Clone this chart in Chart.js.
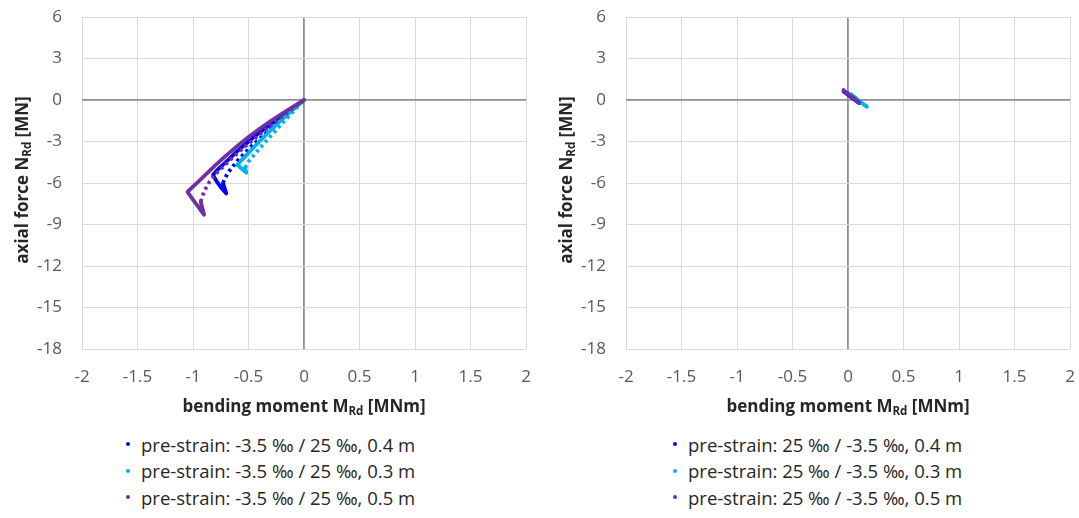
<!DOCTYPE html>
<html>
<head>
<meta charset="utf-8">
<script src="https://cdn.jsdelivr.net/npm/chart.js@4.4.1/dist/chart.umd.min.js"></script>
<style>
  body { margin: 0; background: #fff; }
  #wrap { position: relative; width: 1079px; height: 518px; overflow: hidden; font-family: "Open Sans", sans-serif; }
  #wrap canvas { position: absolute; top: 0; }
  .legend { position: absolute; top: 431px; }
  .item { height: 26.5px; display: flex; align-items: center; font-size: 18.5px; color: #262626; white-space: nowrap; }
  .dot { width: 4px; height: 4px; border-radius: 50%; margin-left: -2px; margin-right: 11px; }
</style>
</head>
<body>
<div id="wrap">
  <canvas id="chartLeft" width="540" height="420" style="left:0"></canvas>
  <canvas id="chartRight" width="540" height="420" style="left:544px"></canvas>
  <div class="legend" id="legendLeft" style="left:128px"></div>
  <div class="legend" id="legendRight" style="left:675px"></div>
</div>
<script>
// Axis ticks
const xTicks = [-2, -1.5, -1, -0.5, 0, 0.5, 1, 1.5, 2];
const yTicks = [6, 3, 0, -3, -6, -9, -12, -15, -18];

// Series names
const leftLabels = [
  'pre-strain: -3.5 ‰ / 25 ‰, 0.4 m',
  'pre-strain: -3.5 ‰ / 25 ‰, 0.3 m',
  'pre-strain: -3.5 ‰ / 25 ‰, 0.5 m'
];
const rightLabels = [
  'pre-strain: 25 ‰ / -3.5 ‰, 0.4 m',
  'pre-strain: 25 ‰ / -3.5 ‰, 0.3 m',
  'pre-strain: 25 ‰ / -3.5 ‰, 0.5 m'
];
const seriesColors = ['#0000ff', '#00b0f0', '#7030a0'];

// Interaction curves, [M (MNm), N (MN)] — outer branch and return branch
const leftOuter04 = [[0,0],[-0.1,-0.55],[-0.2,-1.12],[-0.3,-1.72],[-0.4,-2.35],[-0.5,-3.0],[-0.6,-3.7],[-0.7,-4.45],[-0.78,-5.05],[-0.82,-5.4],[-0.79,-5.85],[-0.75,-6.3],[-0.7,-6.75],[-0.73,-6.0]];
const leftReturn04 = [[-0.73,-6.0],[-0.69,-5.3],[-0.6,-4.4],[-0.5,-3.55],[-0.4,-2.8],[-0.3,-2.08],[-0.2,-1.38],[-0.1,-0.69],[0,0]];

const leftOuter03 = [[0,0],[-0.1,-0.7],[-0.2,-1.42],[-0.3,-2.18],[-0.4,-2.98],[-0.5,-3.82],[-0.57,-4.42],[-0.6,-4.68],[-0.56,-4.97],[-0.52,-5.25],[-0.53,-4.9]];
const leftReturn03 = [[-0.53,-4.9],[-0.5,-4.45],[-0.4,-3.5],[-0.3,-2.6],[-0.2,-1.72],[-0.1,-0.85],[0,0]];

const leftOuter05 = [[0,0],[-0.1,-0.5],[-0.2,-1.0],[-0.3,-1.52],[-0.4,-2.08],[-0.5,-2.68],[-0.6,-3.32],[-0.7,-4.0],[-0.8,-4.72],[-0.9,-5.5],[-1.0,-6.27],[-1.05,-6.65],[-1.0,-7.2],[-0.95,-7.75],[-0.9,-8.3],[-0.93,-7.35]];
const leftReturn05 = [[-0.93,-7.35],[-0.9,-6.6],[-0.85,-5.9],[-0.79,-5.3],[-0.7,-4.6],[-0.6,-3.85],[-0.5,-3.15],[-0.4,-2.5],[-0.3,-1.85],[-0.2,-1.22],[-0.1,-0.6],[0,0]];

const rightOuter04 = [[-0.04,0.62],[0.0,0.38],[0.05,0.08],[0.1,-0.22]];
const rightReturn04 = [[0.1,-0.22],[0.04,0.2],[-0.04,0.62]];
const rightOuter03 = [[0.03,0.41],[0.07,0.12],[0.12,-0.2],[0.17,-0.48]];
const rightReturn03 = [[0.17,-0.48],[0.1,-0.05],[0.03,0.41]];
const rightOuter05 = [[-0.04,0.72],[-0.01,0.5],[0.04,0.18],[0.1,-0.17]];
const rightReturn05 = [[0.1,-0.17],[0.03,0.3],[-0.04,0.72]];

const toPts = arr => arr.map(([x, y]) => ({ x, y }));

function curveDatasets(outer, ret, color, order) {
  return [
    { data: toPts(outer), borderColor: color, backgroundColor: color, showLine: true,
      pointRadius: 0, borderWidth: 3.8, borderJoinStyle: 'round', borderCapStyle: 'round', order },
    { data: toPts(ret), borderColor: color, backgroundColor: color, showLine: true,
      pointRadius: 0, borderWidth: 3.8, borderDash: [3, 3.5], order }
  ];
}

// Axis titles with subscripts
function drawRich(ctx, parts, cx, cy, rotate) {
  ctx.save();
  ctx.translate(cx, cy);
  if (rotate) ctx.rotate(-Math.PI / 2);
  const main = 'bold 17px "Open Sans", sans-serif';
  const sub = 'bold 11.5px "Open Sans", sans-serif';
  let w = 0;
  parts.forEach(p => { ctx.font = p.sub ? sub : main; w += ctx.measureText(p.t).width; });
  let x = -w / 2;
  ctx.fillStyle = '#262626';
  ctx.textBaseline = 'alphabetic';
  ctx.textAlign = 'left';
  parts.forEach(p => {
    ctx.font = p.sub ? sub : main;
    ctx.fillText(p.t, x, p.sub ? 9 : 6);
    x += ctx.measureText(p.t).width;
  });
  ctx.restore();
}

const axisTitles = {
  id: 'axisTitles',
  afterDraw(chart) {
    const ctx = chart.ctx;
    const a = chart.chartArea;
    drawRich(ctx, [{ t: 'bending moment M' }, { t: 'Rd', sub: true }, { t: ' [MNm]' }], (a.left + a.right) / 2, 406, false);
    drawRich(ctx, [{ t: 'axial force N' }, { t: 'Rd', sub: true }, { t: ' [MN]' }], 21.5, 180, true);
  }
};

function makeChart(id, datasets) {
  const gridColor = c => (c.tick && c.tick.value === 0) ? '#8f8f8f' : '#d9d9d9';
  const gridWidth = c => (c.tick && c.tick.value === 0) ? 1.8 : 1;
  const tickFont = { family: 'Open Sans', size: 17 };
  return new Chart(document.getElementById(id), {
    type: 'scatter',
    data: { datasets },
    options: {
      responsive: false,
      animation: false,
      layout: { padding: { top: 17, right: 14, bottom: 0, left: 0 } },
      plugins: { legend: { display: false }, tooltip: { enabled: false } },
      scales: {
        x: {
          type: 'linear', min: -2, max: 2,
          afterBuildTicks: s => { s.ticks = xTicks.map(v => ({ value: v })); },
          afterFit: s => { s.height = 71; s.paddingLeft = 0; s.paddingRight = 0; },
          ticks: { padding: 18, color: '#595959', font: tickFont, callback: v => String(v), maxRotation: 0 },
          grid: { color: gridColor, lineWidth: gridWidth, drawTicks: false },
          border: { display: false }
        },
        y: {
          type: 'linear', min: -18, max: 6,
          afterBuildTicks: s => { s.ticks = yTicks.map(v => ({ value: v })); },
          afterFit: s => { s.width = 82; s.paddingTop = 0; s.paddingBottom = 0; },
          ticks: { padding: 20, color: '#595959', font: tickFont, callback: v => String(v) },
          grid: { color: gridColor, lineWidth: gridWidth, drawTicks: false },
          border: { display: false }
        }
      }
    },
    plugins: [axisTitles]
  });
}

makeChart('chartLeft', [
  ...curveDatasets(leftOuter05, leftReturn05, seriesColors[2], 0),
  ...curveDatasets(leftOuter03, leftReturn03, seriesColors[1], 1),
  ...curveDatasets(leftOuter04, leftReturn04, seriesColors[0], 2)
]);

makeChart('chartRight', [
  ...curveDatasets(rightOuter05, rightReturn05, seriesColors[2], 0),
  ...curveDatasets(rightOuter03, rightReturn03, seriesColors[1], 1),
  ...curveDatasets(rightOuter04, rightReturn04, seriesColors[0], 2)
]);

function buildLegend(id, labels) {
  const el = document.getElementById(id);
  labels.forEach((txt, i) => {
    const row = document.createElement('div');
    row.className = 'item';
    const d = document.createElement('span');
    d.className = 'dot';
    d.style.background = seriesColors[i];
    const t = document.createElement('span');
    t.textContent = txt;
    row.appendChild(d);
    row.appendChild(t);
    el.appendChild(row);
  });
}
buildLegend('legendLeft', leftLabels);
buildLegend('legendRight', rightLabels);
</script>
</body>
</html>
